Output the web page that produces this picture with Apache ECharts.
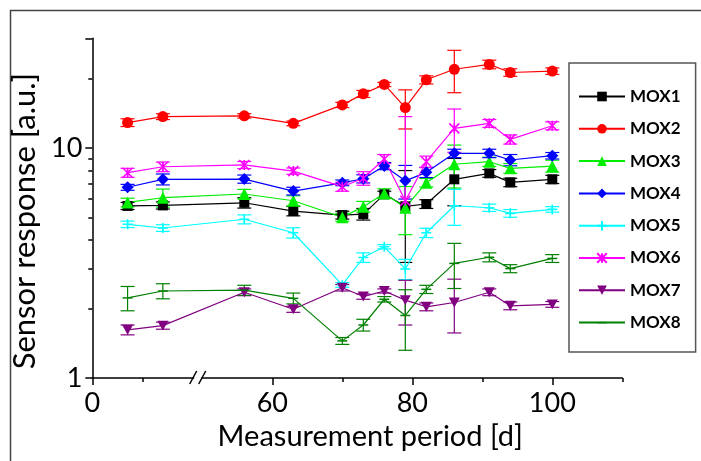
<!DOCTYPE html>
<html>
<head>
<meta charset="utf-8">
<script src="https://cdn.jsdelivr.net/npm/echarts@6/dist/echarts.min.js"></script>
<style>
  html, body { margin: 0; padding: 0; background: #fff; }
  #chart { width: 701px; height: 461px; }
</style>
</head>
<body>
<div id="chart"></div>
<script>
// measurement days
const days = [7, 14, 56, 63, 70, 73, 76, 79, 82, 86, 91, 94, 100];

const mox1 = [5.60, 5.63, 5.78, 5.32, 5.11, 5.16, 6.29, 5.58, 5.71, 7.31, 7.76, 7.09, 7.31];
const mox1Err = [0.2, 0.2, 0.3, 0.25, 0.2, 0.3, 0.2, 2.4, 0.25, 1.7, 0.3, 0.3, 0.3];
const mox2 = [12.9, 13.7, 13.8, 12.8, 15.4, 17.2, 18.9, 15.0, 19.8, 22.0, 23.1, 21.3, 21.6];
const mox2Err = [0.5, 0.4, 0.3, 0.3, 0.4, 0.6, 0.4, 2.9, 0.8, 4.6, 1.0, 0.8, 0.7];
const mox3 = [5.80, 6.08, 6.31, 5.90, 5.00, 5.56, 6.35, 5.5, 7.07, 8.5, 8.72, 8.16, 8.35];
const mox3Err = [0.25, 0.55, 0.3, 0.3, 0.2, 0.3, 0.3, 1.3, 0.3, 1.8, 0.4, 0.4, 0.5];
const mox4 = [6.75, 7.31, 7.33, 6.50, 7.06, 7.35, 8.35, 7.2, 7.84, 9.48, 9.48, 8.87, 9.26];
const mox4Err = [0.2, 0.4, 0.3, 0.25, 0.2, 0.3, 0.3, 1.2, 0.4, 0.4, 0.4, 0.5, 0.3];
const mox5 = [4.66, 4.49, 4.90, 4.28, 2.54, 3.34, 3.72, 2.98, 4.28, 5.61, 5.50, 5.20, 5.41];
const mox5Err = [0.15, 0.15, 0.22, 0.22, 0.06, 0.16, 0.08, 0.3, 0.2, 1.0, 0.2, 0.2, 0.15];
const mox6 = [7.81, 8.29, 8.44, 7.94, 6.79, 7.39, 8.96, 5.9, 8.72, 12.18, 12.8, 10.9, 12.5];
const mox6Err = [0.35, 0.4, 0.3, 0.25, 0.3, 0.5, 0.4, 7.8, 0.5, 2.6, 0.5, 0.5, 0.5];
const mox7 = [1.62, 1.69, 2.36, 1.99, 2.47, 2.26, 2.39, 2.18, 2.04, 2.13, 2.36, 2.06, 2.09];
const mox7Err = [0.08, 0.06, 0.08, 0.06, 0.08, 0.06, 0.05, 0.48, 0.08, 0.56, 0.08, 0.08, 0.06];
const mox8 = [2.23, 2.39, 2.41, 2.22, 1.45, 1.70, 2.20, 1.87, 2.43, 3.15, 3.35, 2.99, 3.31];
const mox8Err = [0.27, 0.18, 0.12, 0.12, 0.05, 0.1, 0.06, 0.55, 0.1, 0.7, 0.15, 0.12, 0.13];

const xLabels = [0, 60, 80, 100];
const xMinorTicks = [10, 70, 90, 110];
const yLabels = [1, 10];
const yMajorTicks = [1, 10, 30];
const yMinorTicks = [2, 3, 4, 5, 6, 7, 8, 9, 20];

// broken x axis: 0..20 compressed, 50..110 normal
const LEFT_END = 20;
const RIGHT_START = 50;
const toAxis = (d) => (d <= LEFT_END ? d * 0.72 : d - 34.286);
const fromAxis = (p) => (p <= 14.4 ? Math.round(p / 0.72) : Math.round(p + 34.286));
const breakPos = (toAxis(LEFT_END) + toAxis(RIGHT_START)) / 2;

const FONT = 'Lato';

// dash marker inside a square box so the legend icon keeps its shape too
const DASH = 'path://M0,0M12,12M0,5.1L12,5.1L12,6.9L0,6.9Z';

const seriesDefs = [
  { name: 'MOX1', data: mox1, err: mox1Err, color: '#000000', symbol: 'rect', size: 10 },
  { name: 'MOX2', data: mox2, err: mox2Err, color: '#ff0000', symbol: 'circle', size: 11 },
  { name: 'MOX3', data: mox3, err: mox3Err, color: '#00ee00', symbol: 'triangle', size: 12 },
  { name: 'MOX4', data: mox4, err: mox4Err, color: '#0000ff', symbol: 'diamond', size: 12 },
  { name: 'MOX5', data: mox5, err: mox5Err, color: '#00ffff', symbol: 'path://M5,0L5,10M0,5L10,5', size: 10, stroke: true },
  { name: 'MOX6', data: mox6, err: mox6Err, color: '#ff00ff', symbol: 'path://M0,0L10,10M10,0L0,10M5,0L5,10', size: 10, stroke: true },
  { name: 'MOX7', data: mox7, err: mox7Err, color: '#800080', symbol: 'path://M0,0L10,0L5,9Z', size: 11 },
  { name: 'MOX8', data: mox8, err: mox8Err, color: '#008000', symbol: DASH, size: 10 }
];

const errorSeries = (def) => ({
  type: 'custom',
  name: def.name + ' err',
  xAxisIndex: 0,
  yAxisIndex: 0,
  clip: false,
  silent: true,
  z: 1,
  data: days.map((d, i) => [toAxis(d), def.data[i], def.err[i]]),
  encode: { x: 0, y: 1 },
  renderItem: (params, api) => {
    const x = api.value(0);
    const v = api.value(1);
    const e = api.value(2);
    const top = api.coord([x, v + e]);
    const mid = api.coord([x, v]);
    const hasLow = v - e > 0;
    const bot = hasLow ? api.coord([x, v - e]) : mid;
    const hw = 7;
    const style = { stroke: def.color, lineWidth: 1.2, fill: null };
    const children = [
      { type: 'line', shape: { x1: top[0], y1: top[1], x2: bot[0], y2: bot[1] }, style },
      { type: 'line', shape: { x1: top[0] - hw, y1: top[1], x2: top[0] + hw, y2: top[1] }, style }
    ];
    if (hasLow) {
      children.push({ type: 'line', shape: { x1: bot[0] - hw, y1: bot[1], x2: bot[0] + hw, y2: bot[1] }, style });
    }
    return { type: 'group', children };
  }
});

const lineSeries = (def) => ({
  type: 'line',
  name: def.name,
  xAxisIndex: 0,
  yAxisIndex: 0,
  data: days.map((d, i) => [toAxis(d), def.data[i]]),
  symbol: def.symbol,
  symbolSize: def.size,
  symbolKeepAspect: true,
  showAllSymbol: true,
  animation: false,
  z: 3,
  lineStyle: { color: def.color, width: 1.2 },
  itemStyle: def.stroke
    ? { color: def.color, borderColor: def.color, borderWidth: 1.6 }
    : { color: def.color, borderWidth: 0 },
  emphasis: { disabled: true }
});

const axisLine = { show: true, lineStyle: { color: '#000', width: 1.5 } };
const labelStyle = { fontFamily: FONT, fontSize: 27, color: '#000' };

const option = {
  animation: false,
  backgroundColor: '#fff',
  grid: {
    left: 92.3,
    right: 78.7,
    top: 38.3,
    bottom: 83,
    containLabel: false,
    outerBoundsMode: 'none'
  },
  legend: {
    orient: 'vertical',
    left: 569,
    top: 63,
    data: seriesDefs.map((s) => s.name),
    itemWidth: 46,
    itemHeight: 12,
    itemGap: 15.3,
    padding: [25, 15, 21, 9],
    borderColor: '#555',
    borderWidth: 1.5,
    selectedMode: false,
    symbolKeepAspect: true,
    textStyle: { fontFamily: FONT, fontSize: 17, fontWeight: 'bold', color: '#000' }
  },
  xAxis: [
    {
      type: 'value',
      min: 0,
      max: toAxis(110),
      axisLine,
      splitLine: { show: false },
      axisTick: { show: true, length: 7, customValues: xLabels.map(toAxis), lineStyle: { color: '#000', width: 1.5 } },
      axisLabel: {
        ...labelStyle,
        margin: 12,
        customValues: xLabels.map(toAxis),
        formatter: (v) => String(fromAxis(v))
      },
      name: 'Measurement period [d]',
      nameLocation: 'middle',
      nameGap: 41,
      nameTextStyle: { fontFamily: FONT, fontSize: 29, color: '#000', padding: [0, 0, 0, 26] }
    },
    {
      type: 'value',
      min: 0,
      max: toAxis(110),
      position: 'bottom',
      axisLine: { show: false },
      splitLine: { show: false },
      axisTick: { show: true, length: 4, customValues: xMinorTicks.map(toAxis), lineStyle: { color: '#000', width: 1.5 } },
      axisLabel: { show: false }
    }
  ],
  yAxis: [
    {
      type: 'log',
      logBase: 10,
      min: 1,
      max: 30,
      axisLine,
      splitLine: { show: false },
      axisTick: { show: true, length: 7, customValues: yMajorTicks, lineStyle: { color: '#000', width: 1.5 } },
      axisLabel: { ...labelStyle, margin: 10, customValues: yLabels },
      name: 'Sensor response [a.u.]',
      nameLocation: 'middle',
      nameGap: 34,
      nameTextStyle: { fontFamily: FONT, fontSize: 31, color: '#000', padding: [0, 26, 0, 0] }
    },
    {
      type: 'log',
      logBase: 10,
      min: 1,
      max: 30,
      position: 'left',
      axisLine: { show: false },
      splitLine: { show: false },
      axisTick: { show: true, length: 4, customValues: yMinorTicks, lineStyle: { color: '#000', width: 1.5 } },
      axisLabel: { show: false }
    }
  ],
  series: [...seriesDefs.map(errorSeries), ...seriesDefs.map(lineSeries)]
};

const chart = echarts.init(document.getElementById('chart'), null, { renderer: 'canvas' });
chart.setOption(option);

// frame and axis break marks
const bx = chart.convertToPixel({ xAxisIndex: 0 }, breakPos);
const by = chart.convertToPixel({ yAxisIndex: 0 }, 1);
chart.setOption({
  graphic: [
    {
      type: 'rect',
      shape: { x: 10.5, y: 10.5, width: 720, height: 480 },
      style: { fill: null, stroke: '#444', lineWidth: 1.5 },
      silent: true
    },
    {
      type: 'rect',
      shape: { x: bx - 3.5, y: by - 2, width: 7, height: 4 },
      style: { fill: '#fff' },
      silent: true,
      z: 100
    },
    {
      type: 'line',
      shape: { x1: bx - 8, y1: by + 6, x2: bx - 1, y2: by - 7 },
      style: { stroke: '#000', lineWidth: 1.5 },
      silent: true,
      z: 101
    },
    {
      type: 'line',
      shape: { x1: bx + 1, y1: by + 6, x2: bx + 8, y2: by - 7 },
      style: { stroke: '#000', lineWidth: 1.5 },
      silent: true,
      z: 101
    }
  ]
});
</script>
</body>
</html>
